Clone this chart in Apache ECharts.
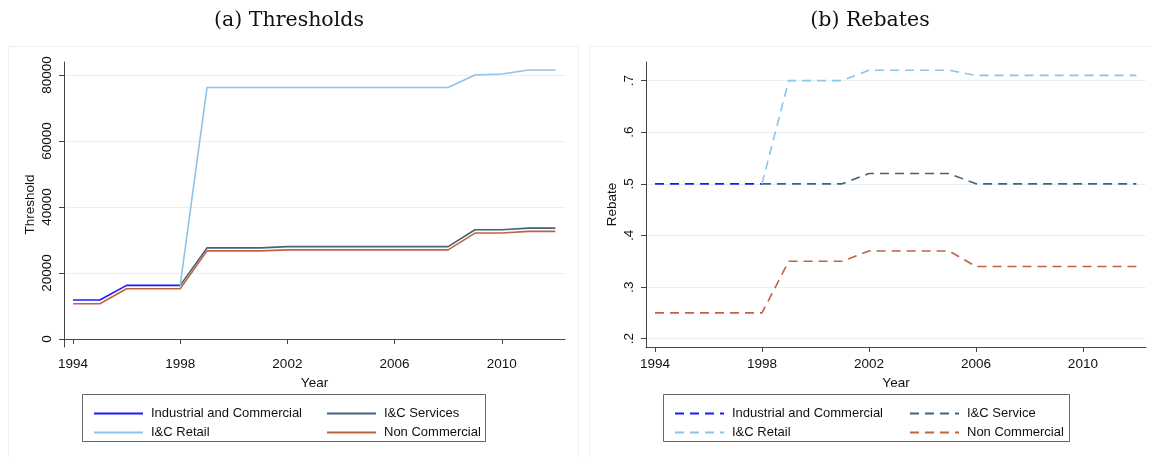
<!DOCTYPE html>
<html>
<head>
<meta charset="utf-8">
<script src="https://cdn.jsdelivr.net/npm/echarts@6/dist/echarts.min.js"></script>
<style>
  html, body { margin: 0; padding: 0; background: #fff; }
  #main { width: 1152px; height: 457px; }
</style>
</head>
<body>
<div id="main"></div>
<script>
// years on the x axis
var years = [1994, 1995, 1996, 1997, 1998, 1999, 2000, 2001, 2002, 2003,
             2004, 2005, 2006, 2007, 2008, 2009, 2010, 2011, 2012];

// (a) thresholds
var thrIndCom   = [11800, 11800, 16250, 16250, 16250, null, null, null, null, null,
                   null, null, null, null, null, null, null, null, null];
var thrServices = [null, null, null, null, 16250, 27600, 27600, 27600, 28000, 28000,
                   28000, 28000, 28000, 28000, 28000, 33100, 33100, 33600, 33600];
var thrRetail   = [null, null, null, null, 16250, 76200, 76200, 76200, 76200, 76200,
                   76200, 76200, 76200, 76200, 76200, 80000, 80300, 81500, 81500];
var thrNonCom   = [10700, 10700, 15250, 15250, 15250, 26700, 26700, 26700, 27000, 27000,
                   27000, 27000, 27000, 27000, 27000, 32100, 32100, 32600, 32600];

// (b) rebates
var rebIndCom   = [0.5, 0.5, 0.5, 0.5, 0.5, null, null, null, null, null,
                   null, null, null, null, null, null, null, null, null];
var rebService  = [null, null, null, null, 0.5, 0.5, 0.5, 0.5, 0.52, 0.52,
                   0.52, 0.52, 0.5, 0.5, 0.5, 0.5, 0.5, 0.5, 0.5];
var rebRetail   = [null, null, null, null, 0.5, 0.7, 0.7, 0.7, 0.72, 0.72,
                   0.72, 0.72, 0.71, 0.71, 0.71, 0.71, 0.71, 0.71, 0.71];
var rebNonCom   = [0.25, 0.25, 0.25, 0.25, 0.25, 0.35, 0.35, 0.35, 0.37, 0.37,
                   0.37, 0.37, 0.34, 0.34, 0.34, 0.34, 0.34, 0.34, 0.34];

// tick labels
var yearTicks = [1994, 1998, 2002, 2006, 2010];
var thrTicks = [0, 20000, 40000, 60000, 80000];
var rebTicks = [0.2, 0.3, 0.4, 0.5, 0.6, 0.7];

var labels = {
  thr_ind: 'Industrial and Commercial', thr_srv: 'I&C Services',
  thr_ret: 'I&C Retail', thr_non: 'Non Commercial',
  reb_ind: 'Industrial and Commercial', reb_srv: 'I&C Service',
  reb_ret: 'I&C Retail', reb_non: 'Non Commercial'
};

var cBlue = '#1a1aff', cNavy = '#44627e', cLtBlue = '#8cc4ea', cSienna = '#bf6440';
var sans = 'Liberation Sans';

function pairs(vals) {
  return years.map(function (y, i) { return [y, vals[i]]; });
}

function lineSeries(key, vals, color, axis, dashed) {
  return {
    name: key, type: 'line', xAxisIndex: axis, yAxisIndex: axis,
    data: pairs(vals), symbol: 'none', connectNulls: false, silent: true,
    lineStyle: { color: color, width: 1.6, type: dashed ? [9, 6] : 'solid' },
    itemStyle: { color: color }
  };
}

function xAx(grid) {
  return {
    type: 'value', gridIndex: grid, min: 1993.664, max: 2012.36,
    name: 'Year', nameLocation: 'middle', nameGap: 24,
    nameTextStyle: { fontFamily: sans, fontSize: 13.5, color: '#111' },
    axisLine: { lineStyle: { color: '#444', width: 1 } },
    axisTick: { customValues: yearTicks, length: 5, lineStyle: { color: '#444' } },
    axisLabel: { customValues: yearTicks, margin: 10, fontFamily: sans, fontSize: 13.5, color: '#111',
                 formatter: function (v) { return String(v); } },
    splitLine: { show: false }
  };
}

function yAx(grid, name, ticks, min, max, fmt) {
  return {
    type: 'value', gridIndex: grid, min: min, max: max,
    name: name, nameLocation: 'middle', nameGap: 27, nameRotate: 90,
    nameTextStyle: { fontFamily: sans, fontSize: 13.5, color: '#111' },
    axisLine: { show: true, lineStyle: { color: '#444', width: 1 } },
    axisTick: { show: true, customValues: ticks, length: 5, lineStyle: { color: '#444' } },
    axisLabel: { customValues: ticks, rotate: 90, margin: 10, fontFamily: sans, fontSize: 13.5,
                 color: '#111', formatter: fmt },
    splitLine: { show: true, lineStyle: { color: '#e8f0f1', width: 1.2 } }
  };
}

// legend column, line sample only (symbol hidden)
function legendCol(left, keys) {
  return {
    orient: 'vertical', left: left, top: 402, itemWidth: 49, itemHeight: 14, itemGap: 6,
    data: keys, selectedMode: false,
    itemStyle: { opacity: 0 },
    formatter: function (n) { return labels[n]; },
    textStyle: { fontFamily: sans, fontSize: 13, color: '#111', padding: [0, 0, 0, 3] }
  };
}

var myChart = echarts.init(document.getElementById('main'));

var option = {
  backgroundColor: '#fff',
  animation: false,
  graphic: [
    { type: 'rect', shape: { x: 8.5, y: 46.5, width: 570, height: 420 },
      style: { fill: '#fff', stroke: '#edf1f1', lineWidth: 1 }, z: -10 },
    { type: 'rect', shape: { x: 589.5, y: 46.5, width: 570, height: 420 },
      style: { fill: '#fff', stroke: '#edf1f1', lineWidth: 1 }, z: -10 },
    { type: 'text', x: 289, y: 21, style: { text: '(a) Thresholds', font: '20.5px "DejaVu Serif"',
      fill: '#111', textAlign: 'center', textVerticalAlign: 'middle' } },
    { type: 'text', x: 870, y: 21, style: { text: '(b) Rebates', font: '20.5px "DejaVu Serif"',
      fill: '#111', textAlign: 'center', textVerticalAlign: 'middle' } },
    { type: 'rect', shape: { x: 82.5, y: 394.5, width: 403, height: 47 },
      style: { fill: 'none', stroke: '#666', lineWidth: 1 } },
    { type: 'rect', shape: { x: 663.5, y: 394.5, width: 406, height: 47 },
      style: { fill: 'none', stroke: '#666', lineWidth: 1 } }
  ],
  legend: [
    legendCol(88, ['thr_ind', 'thr_ret']),
    legendCol(321, ['thr_srv', 'thr_non']),
    legendCol(669, ['reb_ind', 'reb_ret']),
    legendCol(904, ['reb_srv', 'reb_non'])
  ],
  grid: [
    { left: 64, top: 62, width: 501, height: 285 },
    { left: 646, top: 62, width: 500, height: 285 }
  ],
  xAxis: [xAx(0), xAx(1)],
  yAxis: [
    yAx(0, 'Threshold', thrTicks, -2420, 83930, function (v) { return String(v); }),
    yAx(1, 'Rebate', rebTicks, 0.184, 0.736, function (v) { return String(v).replace(/^0/, ''); })
  ],
  series: [
    lineSeries('thr_ind', thrIndCom, cBlue, 0, false),
    lineSeries('thr_srv', thrServices, cNavy, 0, false),
    lineSeries('thr_ret', thrRetail, cLtBlue, 0, false),
    lineSeries('thr_non', thrNonCom, cSienna, 0, false),
    lineSeries('reb_ind', rebIndCom, cBlue, 1, true),
    lineSeries('reb_srv', rebService, cNavy, 1, true),
    lineSeries('reb_ret', rebRetail, cLtBlue, 1, true),
    lineSeries('reb_non', rebNonCom, cSienna, 1, true)
  ]
};

myChart.setOption(option);
</script>
</body>
</html>
